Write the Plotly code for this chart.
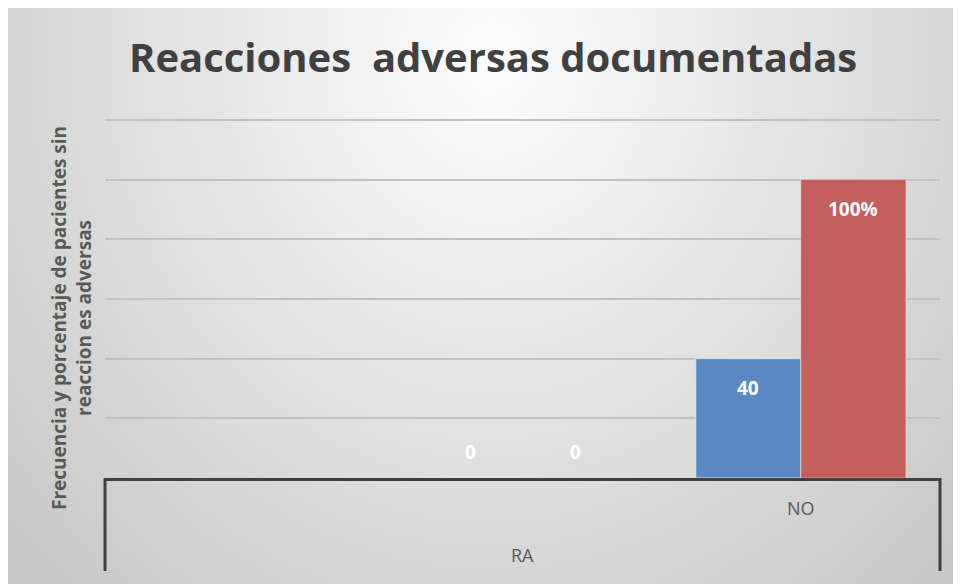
import base64, struct, zlib
import numpy as np
import plotly.graph_objects as go

# ---------------- data ----------------
categories = ["", "SI", "NO"]          # inner categories (middle label not shown in the source)
tick_labels = ["", "", "NO"]
group_label = "RA"
frecuencia = [None, 0, 40]
porcentaje = [None, 0, 100]
frecuencia_text = ["", "0", "40"]
porcentaje_text = ["", "0", "100%"]

title_text = "Reacciones  adversas documentadas"
ylabel_text = "Frecuencia y porcentaje de pacientes sin<br>reaccion es adversas"

W, H = 961, 584
L, R, T, B = 97, 29, 97, 114
PW, PH = W - L - R, H - T - B
AXIS_Y = H - B  # figure pixel row of the category axis

FONT = "Open Sans, sans-serif"


# ---------------- gradient background as PNG ----------------
def make_png(arr):
    h, w = arr.shape[:2]
    raw = b"".join(b"\x00" + arr[i].tobytes() for i in range(h))
    def chunk(tag, data):
        c = struct.pack(">I", len(data)) + tag + data
        return c + struct.pack(">I", zlib.crc32(tag + data) & 0xFFFFFFFF)
    png = b"\x89PNG\r\n\x1a\n"
    png += chunk(b"IHDR", struct.pack(">IIBBBBB", w, h, 8, 2, 0, 0, 0))
    png += chunk(b"IDAT", zlib.compress(raw, 9))
    png += chunk(b"IEND", b"")
    return "data:image/png;base64," + base64.b64encode(png).decode()

gw, gh = 240, 146
yy, xx = np.mgrid[0:gh, 0:gw]
cx, cy = gw * 0.5, gh * 0.08
d = np.sqrt(((xx - cx) / (gw * 0.55)) ** 2 + ((yy - cy) / (gh * 1.0)) ** 2)
v = np.clip(254 - 44 * d, 200, 254).astype(np.uint8)
img = np.stack([v, v, v], axis=-1)
bg_src = make_png(img)

fig = go.Figure()
fig.add_trace(go.Bar(
    x=categories, y=frecuencia, name="Frecuencia",
    marker=dict(color="#5a89c3", line=dict(color="#dce6f2", width=1)),
))
fig.add_trace(go.Bar(
    x=categories, y=porcentaje, name="Porcentaje",
    marker=dict(color="#c25e5b", line=dict(color="#f2dcdb", width=0.5)),
))

# data labels (inside end; zero values sit just above the axis)
annotations = []
for vals, texts, shift in [(frecuencia, frecuencia_text, -52.5), (porcentaje, porcentaje_text, 52.5)]:
    for c, val, t in zip(categories, vals, texts):
        if val is None:
            continue
        annotations.append(dict(
            x=c, y=val, xref="x", yref="y", text=t, showarrow=False,
            xshift=shift, yshift=(-29 if val > 0 else 26), yanchor="middle",
            font=dict(family=FONT, size=19, color="white", weight="bold"),
        ))

# outer group label
annotations.append(dict(
    x=categories[1], y=(AXIS_Y - 547) / PH, xref="x", yref="paper", text=group_label,
    showarrow=False, yanchor="middle",
    font=dict(family=FONT, size=18, color="#595959"),
))
# title
annotations.append(dict(
    x=(484.5 - L) / PW, y=(AXIS_Y - 49) / PH, xref="paper", yref="paper", text="<b>" + title_text + "</b>",
    showarrow=False, xanchor="center", yanchor="middle",
    font=dict(family=FONT, size=40, color="#404040"),
))
# y axis title
annotations.append(dict(
    x=(63 - L) / PW, y=(AXIS_Y - 310) / PH, xref="paper", yref="paper", text="<b>" + ylabel_text + "</b>",
    showarrow=False, textangle=-90, xanchor="center", yanchor="middle",
    font=dict(family=FONT, size=19, color="#595959"),
))

shapes = [
    # bracket verticals of the grouped category axis
    dict(type="line", xref="x domain", yref="paper", x0=0, x1=0, y0=0, y1=(AXIS_Y - 563) / PH,
         line=dict(color="#404040", width=3)),
    dict(type="line", xref="x domain", yref="paper", x0=1, x1=1, y0=0, y1=(AXIS_Y - 563) / PH,
         line=dict(color="#404040", width=3)),
]

fig.update_layout(
    width=W, height=H,
    margin=dict(l=L, r=R, t=T, b=B),
    paper_bgcolor="#dcdcdc", plot_bgcolor="rgba(0,0,0,0)",
    barmode="group", bargap=0.245, bargroupgap=0,
    showlegend=False,
    font=dict(family=FONT, color="#595959"),
    annotations=annotations, shapes=shapes,
    images=[dict(source=bg_src, xref="paper", yref="paper",
                 x=-L / PW, y=1 + T / PH,
                 sizex=W / PW, sizey=H / PH,
                 sizing="stretch", xanchor="left", yanchor="top", layer="below")],
)
fig.update_xaxes(
    type="category", categoryorder="array", categoryarray=categories,
    tickvals=categories, ticktext=tick_labels, range=[-0.5, 2.5],
    showline=True, linecolor="#404040", linewidth=3,
    ticks="outside", ticklen=12, tickcolor="rgba(0,0,0,0)",
    tickfont=dict(family=FONT, size=18, color="#595959"),
    showgrid=False, zeroline=False, fixedrange=True,
)
fig.update_yaxes(
    range=[0, 125], dtick=20, tick0=0, showticklabels=False,
    showgrid=True, gridcolor="#c2c2c2", gridwidth=2,
    zeroline=False, showline=False, fixedrange=True,
)

fig.write_html("out.html")
